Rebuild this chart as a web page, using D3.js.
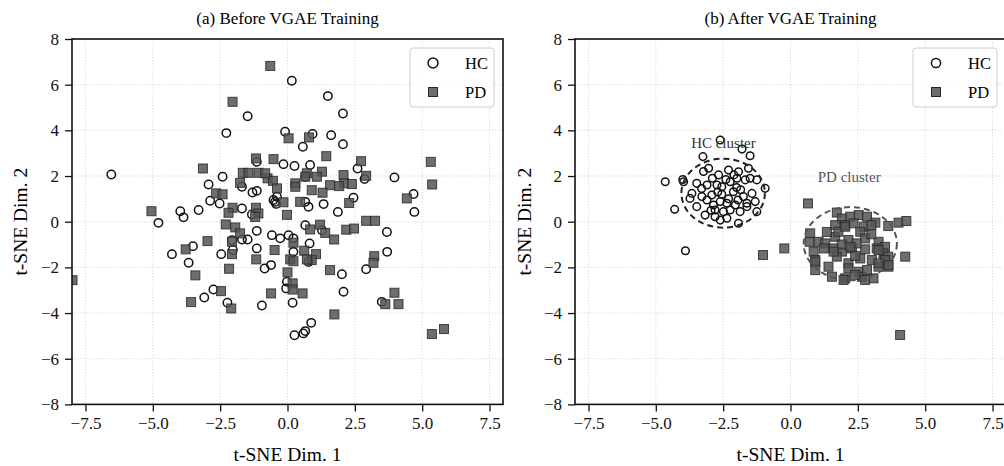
<!DOCTYPE html>
<html>
<head>
<meta charset="utf-8">
<title>t-SNE before / after VGAE</title>
<script src="https://cdn.jsdelivr.net/npm/d3@7"></script>
<style>
  html, body { margin: 0; padding: 0; background: #fff; }
  svg { display: block; font-family: "Liberation Serif", "DejaVu Serif", serif; }
</style>
</head>
<body>
<svg id="chart" width="1004" height="466"></svg>
<script>
// ---- data (t-SNE coordinates) ----
var xTicks = [-7.5, -5.0, -2.5, 0.0, 2.5, 5.0, 7.5];
var yTicks = [-8, -6, -4, -2, 0, 2, 4, 6, 8];
var titles = ["(a) Before VGAE Training", "(b) After VGAE Training"];
var seriesNames = ["HC", "PD"];

var hcBefore = [
  [-6.54, 2.07], [-2.27, 3.88], [-1.48, 4.62], [-2.41, 1.97], [-2.93, 1.63], [-2.87, 0.92],
  [-2.52, 0.80], [-3.98, 0.46], [-3.86, 0.19], [-3.30, 0.51], [-4.79, -0.05], [-1.14, 2.62],
  [-1.69, 1.53], [-1.30, 1.28], [-1.14, 1.35], [-0.46, 0.87], [-0.42, 0.78], [-1.69, 0.58],
  [-1.32, 0.32], [-1.14, -0.40], [-2.06, -0.81], [-1.69, -0.78], [-1.48, -0.78], [-0.58, -0.59],
  [-3.51, -1.07], [-4.29, -1.42], [-3.67, -1.80], [-2.46, -1.42], [-2.03, -1.24], [-1.14, -1.17],
  [-0.85, -2.05], [-0.61, -1.90], [-2.75, -2.97], [-3.09, -3.32], [-2.23, -3.55], [-0.95, -3.67],
  [0.16, 6.17], [1.50, 5.50], [2.06, 4.74], [-0.09, 3.94], [0.93, 3.84], [1.62, 3.79],
  [0.57, 3.28], [2.06, 3.39], [-0.15, 2.52], [0.26, 2.44], [0.84, 2.48], [2.60, 2.33],
  [2.86, 1.87], [3.97, 1.94], [4.68, 1.21], [4.71, 0.43], [0.66, 1.97], [-0.52, 0.95],
  [-0.39, 1.09], [0.66, 0.87], [0.78, 0.65], [1.34, 0.77], [1.87, 0.43], [2.45, 1.05],
  [0.66, -0.15], [3.69, -0.45], [1.28, -0.37], [3.70, -1.32], [2.92, -2.08], [-0.27, -0.73],
  [0.04, -0.59], [0.22, -0.73], [0.82, -0.95], [0.22, -1.32], [0.78, -1.76], [2.02, -2.30],
  [-0.02, -2.63], [-0.05, -2.92], [2.08, -3.07], [0.19, -3.55], [3.50, -3.51], [0.88, -4.43],
  [0.59, -4.89], [0.26, -4.97], [0.66, -4.79]
];

var pdBefore = [
  [-0.64, 6.82], [-2.04, 5.25], [-3.14, 2.33], [-2.65, 1.24], [-2.41, 1.20], [-5.05, 0.46],
  [-1.17, 2.77], [-0.52, 2.74], [-1.66, 2.14], [-1.45, 2.14], [-1.08, 2.14], [-0.74, 1.90],
  [-0.54, 1.79], [-1.76, 1.70], [-0.39, 1.46], [-2.04, 0.61], [-2.19, 0.39], [-1.17, 0.61],
  [-1.08, 0.36], [-1.20, 0.21], [-2.29, -0.12], [-1.94, -0.25], [-1.76, -0.51], [-2.06, -0.88],
  [-0.48, -1.24], [-2.97, -0.85], [-3.78, -1.21], [-2.06, -1.42], [-1.16, -1.65], [-3.42, -2.35],
  [-2.17, -2.06], [-7.98, -2.56], [-2.47, -3.04], [-3.58, -3.52], [-2.09, -3.80], [-0.61, -3.14],
  [0.04, 3.65], [0.80, 3.69], [1.44, 2.87], [2.73, 2.65], [2.92, 2.01], [5.32, 2.62],
  [5.37, 1.63], [4.43, 1.02], [1.28, 2.19], [1.09, 1.97], [0.72, 2.12], [0.66, 1.97],
  [2.08, 2.04], [2.10, 1.68], [2.39, 1.65], [1.58, 1.60], [1.92, 1.56], [0.29, 1.68],
  [0.29, 1.53], [0.90, 1.38], [1.30, 1.27], [-0.83, 2.12], [-0.15, 0.85], [-0.02, 0.30],
  [2.29, 0.82], [1.21, -0.13], [2.92, 0.04], [3.25, 0.04], [2.18, -0.35], [2.47, -0.30],
  [0.47, 0.87], [0.84, -0.34], [1.40, -0.49], [1.73, -0.78], [3.22, -1.51], [3.19, -1.80],
  [0.22, -0.92], [0.62, -1.27], [1.06, -1.42], [0.10, -1.65], [0.22, -1.73], [0.90, -1.68],
  [0.72, -1.65], [0.00, -2.22], [1.58, -2.12], [0.19, -2.70], [0.19, -2.97], [0.56, -3.14],
  [1.74, -4.06], [3.63, -3.61], [4.12, -3.61], [3.97, -3.11], [5.36, -4.92], [5.81, -4.70]
];

var hcAfter = [
  [-4.65, 1.75], [-4.00, 1.85], [-4.30, 0.54], [-3.90, -1.27], [-3.73, 1.02],
  [-2.61, 3.58], [-1.80, 3.18], [-1.50, 2.89], [-3.25, 2.85], [-3.04, 2.34], [-2.30, 2.26],
  [-1.93, 2.19], [-1.56, 2.34], [-2.67, 2.05], [-3.97, 1.75], [-1.25, 1.83], [-0.94, 1.46],
  [-3.48, 1.68], [-3.10, 1.61], [-2.73, 1.61], [-2.55, 1.53], [-2.24, 1.75], [-1.99, 1.90],
  [-1.68, 1.83], [-3.66, 1.24], [-3.29, 1.10], [-2.92, 1.17], [-2.55, 1.20], [-2.12, 1.31],
  [-1.75, 1.10], [-1.43, 1.24], [-1.31, 0.88], [-3.48, 0.66], [-3.10, 0.95], [-2.86, 0.73],
  [-2.61, 0.88], [-2.36, 0.81], [-2.05, 0.73], [-1.62, 0.81], [-1.25, 0.44], [-3.17, 0.29],
  [-2.80, 0.51], [-2.49, 0.44], [-2.24, 0.51], [-1.87, 0.44], [-1.62, 0.66], [-2.80, 0.22],
  [-2.61, 0.07], [-2.36, 0.15], [-1.93, -0.07], [-2.90, 1.90], [-2.40, 1.85], [-2.00, 1.50],
  [-2.70, 1.30], [-2.30, 1.00], [-1.95, 0.95], [-3.30, 1.45], [-2.10, 2.05], [-2.95, 0.50],
  [-1.85, 1.40], [-1.50, 1.90], [-3.23, 2.20]
];

var pdAfter = [
  [0.65, 0.80], [-0.23, -1.17], [-1.02, -1.46], [4.26, -1.53], [4.01, -0.04], [4.30, 0.03],
  [3.63, -0.19], [4.07, -4.96], [1.72, 0.40], [1.91, 0.14], [2.22, 0.22], [2.53, 0.29],
  [2.84, 0.22], [3.15, -0.04], [1.66, -0.15], [2.03, -0.15], [2.34, -0.07], [2.72, -0.22],
  [3.00, -0.15], [0.73, -0.51], [0.71, -0.88], [1.04, -0.88], [1.29, -0.95], [0.86, -1.31],
  [1.24, -1.17], [1.66, -0.66], [2.15, -0.80], [2.59, -0.44], [2.77, -0.73], [3.27, -0.88],
  [3.51, -1.10], [1.60, -1.17], [1.91, -1.31], [2.28, -1.17], [2.77, -1.21], [3.20, -1.17],
  [3.45, -1.39], [3.63, -1.53], [3.51, -1.68], [0.92, -1.68], [1.41, -1.97], [1.72, -1.53],
  [2.15, -1.82], [2.59, -1.61], [3.02, -1.68], [3.27, -1.97], [3.63, -1.97], [0.92, -2.12],
  [1.54, -2.41], [2.03, -2.48], [2.53, -2.19], [2.65, -2.41], [3.08, -2.48], [2.84, -2.12],
  [2.15, -2.04], [1.35, -0.45], [2.45, -0.95], [3.00, -0.55], [1.90, -1.00], [2.40, -1.50],
  [1.78, -0.44], [2.03, -0.22], [2.22, -1.10], [3.27, -1.24], [1.97, -2.55], [2.77, -2.55],
  [2.40, -2.33], [0.92, -1.75], [1.60, -1.31], [3.27, -1.82], [3.64, -1.90]
];

// dashed cluster outlines in panel (b): centre and radii in data units
var clusterNames = ["HC cluster", "PD cluster"];
var clusterCx = [-2.5, 2.22];
var clusterCy = [1.25, -0.96];
var clusterRx = [1.55, 1.73];
var clusterRy = [1.51, 1.6];
var clusterLabelX = [-2.49, 2.18];
var clusterLabelY = [3.22, 1.75];

// ---- layout ----
var svg = d3.select("#chart");
var panels = [
  { left: 72, right: 503, hc: hcBefore, pd: pdBefore, r: 4.2, ylabX: 20, clusters: false },
  { left: 575, right: 1006, hc: hcAfter, pd: pdAfter, r: 3.8, ylabX: 524, clusters: true }
];
var plotTop = 39, plotBottom = 404.4;

panels.forEach(function(p, i) {
  var x = d3.scaleLinear().domain([-8, 8]).range([p.left, p.right]);
  var y = d3.scaleLinear().domain([-8, 8]).range([plotBottom, plotTop]);
  var g = svg.append("g");

  // grid
  g.selectAll(".gx").data(xTicks).enter().append("line")
    .attr("x1", function(d) { return x(d); }).attr("x2", function(d) { return x(d); })
    .attr("y1", plotTop).attr("y2", plotBottom)
    .attr("stroke", "#cfcfcf").attr("stroke-width", 0.8).attr("stroke-dasharray", "1.2,1.8");
  g.selectAll(".gy").data(yTicks).enter().append("line")
    .attr("y1", function(d) { return y(d); }).attr("y2", function(d) { return y(d); })
    .attr("x1", p.left).attr("x2", p.right)
    .attr("stroke", "#cfcfcf").attr("stroke-width", 0.8).attr("stroke-dasharray", "1.2,1.8");

  var clip = "clip" + i;
  svg.append("clipPath").attr("id", clip).append("rect")
    .attr("x", p.left).attr("y", plotTop).attr("width", p.right - p.left).attr("height", plotBottom - plotTop);
  var marks = g.append("g").attr("clip-path", "url(#" + clip + ")");

  // HC: open circles
  marks.selectAll("circle.hc").data(p.hc).enter().append("circle")
    .attr("cx", function(d) { return x(d[0]); })
    .attr("cy", function(d) { return y(d[1]); })
    .attr("r", p.r)
    .attr("fill", "none").attr("stroke", "#111").attr("stroke-width", 1.5);

  // PD: grey squares
  var s = 9;
  marks.selectAll("rect.pd").data(p.pd).enter().append("rect")
    .attr("x", function(d) { return x(d[0]) - s / 2; })
    .attr("y", function(d) { return y(d[1]) - s / 2; })
    .attr("width", s).attr("height", s)
    .attr("fill", "#555").attr("fill-opacity", 0.85)
    .attr("stroke", "#2a2a2a").attr("stroke-opacity", 0.85).attr("stroke-width", 1);

  if (p.clusters) {
    var cols = ["#222", "#555"];
    marks.selectAll("ellipse").data(clusterNames).enter().append("ellipse")
      .attr("cx", function(d, k) { return x(clusterCx[k]); })
      .attr("cy", function(d, k) { return y(clusterCy[k]); })
      .attr("rx", function(d, k) { return x(clusterRx[k]) - x(0); })
      .attr("ry", function(d, k) { return y(0) - y(clusterRy[k]); })
      .attr("fill", "none").attr("stroke", function(d, k) { return cols[k]; })
      .attr("stroke-width", 2).attr("stroke-dasharray", "6,4");
    g.selectAll("text.cl").data(clusterNames).enter().append("text")
      .attr("x", function(d, k) { return x(clusterLabelX[k]); })
      .attr("y", function(d, k) { return y(clusterLabelY[k]); })
      .attr("text-anchor", "middle").attr("font-size", 15)
      .attr("fill", function(d, k) { return k === 0 ? "#333" : "#555"; })
      .text(function(d) { return d; });
  }

  // axes
  var xa = g.append("g").attr("transform", "translate(0," + plotBottom + ")")
    .call(d3.axisBottom(x).tickValues(xTicks).tickFormat(d3.format(".1f")).tickSize(7).tickPadding(6));
  var ya = g.append("g").attr("transform", "translate(" + p.left + ",0)")
    .call(d3.axisLeft(y).tickValues(yTicks).tickFormat(d3.format("d")).tickSize(7).tickPadding(6));
  [xa, ya].forEach(function(a) {
    a.select(".domain").remove();
    a.selectAll("line").attr("stroke", "#111").attr("stroke-width", 1.3);
    a.selectAll("text").attr("font-size", 17).attr("fill", "#111")
      .attr("font-family", "Liberation Serif, serif");
  });

  // spines
  g.append("rect").attr("x", p.left).attr("y", plotTop)
    .attr("width", p.right - p.left).attr("height", plotBottom - plotTop)
    .attr("fill", "none").attr("stroke", "#111").attr("stroke-width", 1.6);

  // titles and labels
  g.append("text").attr("x", (p.left + p.right) / 2).attr("y", 24)
    .attr("text-anchor", "middle").attr("font-size", 17).text(titles[i]);
  g.append("text").attr("x", (p.left + p.right) / 2).attr("y", 461)
    .attr("text-anchor", "middle").attr("font-size", 19.5).text("t-SNE Dim. 1");
  g.append("text").attr("transform", "translate(" + p.ylabX + "," + ((plotTop + plotBottom) / 2) + ") rotate(-90)")
    .attr("text-anchor", "middle").attr("dy", "0.35em").attr("font-size", 19.5).text("t-SNE Dim. 2");

  // legend
  var lx = p.right - 93, ly = 48;
  var lg = g.append("g").attr("transform", "translate(" + lx + "," + ly + ")");
  lg.append("rect").attr("width", 84).attr("height", 59).attr("rx", 3)
    .attr("fill", "#fff").attr("fill-opacity", 0.85)
    .attr("stroke", "#cccccc").attr("stroke-width", 1);
  lg.append("circle").attr("cx", 23).attr("cy", 15).attr("r", p.r + 0.8)
    .attr("fill", "none").attr("stroke", "#111").attr("stroke-width", 1.5);
  lg.append("rect").attr("x", 23 - s / 2).attr("y", 44 - s / 2).attr("width", s).attr("height", s)
    .attr("fill", "#555").attr("fill-opacity", 0.85).attr("stroke", "#2a2a2a").attr("stroke-width", 1);
  lg.selectAll("text").data(seriesNames).enter().append("text")
    .attr("x", 55).attr("y", function(d, k) { return 15 + k * 29; })
    .attr("dy", "0.35em").attr("font-size", 16.5).text(function(d) { return d; });
});
</script>
</body>
</html>
